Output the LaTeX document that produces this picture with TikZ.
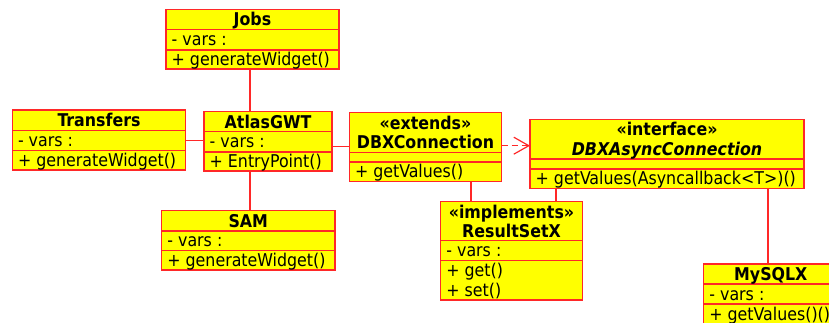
\documentclass[tikz,border=0pt]{standalone}
\usepackage{fontspec}
\setmainfont{DejaVu Sans Condensed}
\usetikzlibrary{arrows.meta}
\definecolor{umlred}{RGB}{255,40,40}
\definecolor{umlfill}{RGB}{255,255,0}
\begin{document}
\begin{tikzpicture}[x=1pt,y=-1pt,
  cls/.style={draw=umlred, fill=umlfill, line width=1.4pt, inner sep=0pt, outer sep=0pt, anchor=north west},
  sep/.style={draw=umlred, line width=1.4pt},
  link/.style={draw=umlred, line width=1.4pt},
  realize/.style={draw=umlred, line width=1.4pt, dash pattern=on 6pt off 4pt,
    -{Straight Barb[length=15pt, width=17pt, line width=1.2pt]}},
  title/.style={font=\bfseries\fontsize{17.6}{19}\selectfont, inner sep=0pt, anchor=base},
  member/.style={font=\fontsize{17.6}{19}\selectfont, inner sep=0pt, anchor=base west},
]
\useasboundingbox (0,0) rectangle (829,323);
\clip (0,0) rectangle (829,323);

% ---------- class boxes ----------
\node[cls, minimum width=173pt,   minimum height=59.7pt] (jobs)      at (166,9.3)    {};
\node[cls, minimum width=173.4pt, minimum height=60pt]   (transfers) at (12.3,110)   {};
\node[cls, minimum width=128pt,   minimum height=59.3pt] (atlas)     at (204,111.7)  {};
\node[cls, minimum width=173.3pt, minimum height=59.3pt] (sam)       at (161.7,210.7){};
\node[cls, minimum width=152.4pt, minimum height=69pt]   (dbx)       at (349.3,112.7){};
\node[cls, minimum width=274pt,   minimum height=69pt]   (async)     at (530,119.3)  {};
\node[cls, minimum width=141.6pt, minimum height=98.3pt] (rsx)       at (440.7,201.7){};
\node[cls, minimum width=134pt,   minimum height=80pt]   (mysql)     at (703.7,264)  {};

% ---------- compartment separators ----------
\draw[sep] (166,29.3) -- (339,29.3)   (166,50) -- (339,50);
\draw[sep] (12.3,130.7) -- (185.7,130.7) (12.3,150.7) -- (185.7,150.7);
\draw[sep] (204,131.7) -- (332,131.7) (204,152) -- (332,152);
\draw[sep] (161.7,231) -- (335,231) (161.7,250.7) -- (335,250.7);
\draw[sep] (349.3,152.3) -- (501.7,152.3) (349.3,162) -- (501.7,162);
\draw[sep] (530,159) -- (804,159) (530,169) -- (804,169);
\draw[sep] (440.7,240.7) -- (582.3,240.7) (440.7,260.7) -- (582.3,260.7);
\draw[sep] (703.7,284) -- (837.7,284) (703.7,304) -- (837.7,304);

% ---------- class names ----------
\node[title] (jobs-t)      at (252.5,25.8)  {Jobs};
\node[title] (transfers-t) at (99,126.8)    {Transfers};
\node[title] (atlas-t)     at (268,128.2)   {AtlasGWT};
\node[title] (sam-t)       at (248.3,227.3) {SAM};
\node[title] (dbx-s)       at (425.5,129.2) {«extends»};
\node[title] (dbx-t)       at (425.5,148.2) {DBXConnection};
\node[title] (async-s)     at (667,135.8)   {«interface»};
\node[title, font=\bfseries\itshape\fontsize{17.6}{19}\selectfont] (async-t) at (667,155.5) {DBXAsyncConnection};
\node[title] (rsx-s)       at (511.5,218.2) {«implements»};
\node[title] (rsx-t)       at (511.5,237.5) {ResultSetX};
\node[title] (mysql-t)     at (770.8,280.5) {MySQLX};

% ---------- attributes and operations ----------
\node[member] (jobs-a)      at (171.5,45.7)  {- vars :};
\node[member] (jobs-m)      at (171.5,65.5)  {+ generateWidget()};
\node[member] (transfers-a) at (17.8,146.7)  {- vars :};
\node[member] (transfers-m) at (17.8,166.3)  {+ generateWidget()};
\node[member] (atlas-a)     at (209.5,147.8) {- vars :};
\node[member] (atlas-m)     at (209.5,167.5) {+ EntryPoint()};
\node[member] (sam-a)       at (167.2,246.8) {- vars :};
\node[member] (sam-m)       at (167.2,266.3) {+ generateWidget()};
\node[member] (dbx-m)       at (354.8,177.8) {+ getValues()};
\node[member] (async-m)     at (535.5,184.7) {+ getValues(Asyncallback<T>)()};
\node[member] (rsx-a)       at (446.2,256.7) {- vars :};
\node[member] (rsx-m1)      at (446.2,276)   {+ get()};
\node[member] (rsx-m2)      at (446.2,296)   {+ set()};
\node[member] (mysql-a)     at (709.2,300)   {- vars :};
\node[member] (mysql-m)     at (709.2,320)   {+ getValues()()};

% ---------- associations ----------
\draw[link] (jobs.south -| 250,0) -- (atlas.north -| 250,0);
\draw[link] (atlas.south -| 250,0) -- (sam.north -| 250,0);
\draw[link] (transfers.east |- 0,140.7) -- (atlas.west |- 0,140.7);
\draw[link] (atlas.east |- 0,146.7) -- (dbx.west |- 0,146.7);
\draw[link] (dbx.south -| 471,0) -- (rsx.north -| 471,0);
\draw[link] (async.south -| 556,0) -- (rsx.north -| 556,0);
\draw[link] (async.south -| 768,0) -- (mysql.north -| 768,0);

% ---------- realization ----------
\draw[realize] (dbx.east |- 0,145.7) -- (async.west |- 0,145.7);
\end{tikzpicture}
\end{document}
